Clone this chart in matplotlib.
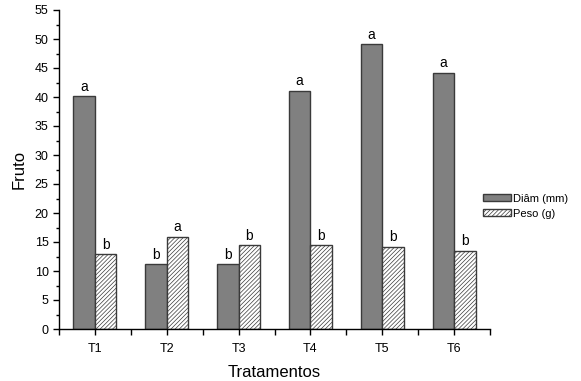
import numpy as np
import matplotlib.pyplot as plt
from matplotlib.ticker import MultipleLocator, FixedLocator

plt.rcParams['font.family'] = ['Liberation Sans', 'DejaVu Sans']
plt.rcParams['hatch.color'] = '#404040'
plt.rcParams['hatch.linewidth'] = 0.5

# data
tratamentos = ['T1', 'T2', 'T3', 'T4', 'T5', 'T6']
diam = [40.2, 11.2, 11.2, 41.1, 49.1, 44.2]
peso = [12.9, 15.9, 14.4, 14.4, 14.2, 13.5]
letras_diam = ['a', 'b', 'b', 'a', 'a', 'a']
letras_peso = ['b', 'a', 'b', 'b', 'b', 'b']

fig = plt.figure(figsize=(5.81, 3.81), dpi=100)
ax = fig.add_axes([59 / 581, 52 / 381, 431 / 581, 319 / 381])

x = np.arange(1, len(tratamentos) + 1)
w = 0.3
ax.bar(x - w / 2, diam, w, color='#808080', edgecolor='#3a3a3a',
       linewidth=1.0, label='Diâm (mm)')
ax.bar(x + w / 2, peso, w, color='white', edgecolor='#3a3a3a',
       linewidth=1.0, hatch='////////', label='Peso (g)')

# letras de significancia
for xi, v, l in zip(x - w / 2, diam, letras_diam):
    ax.text(xi, v + 0.4, l, ha='center', va='bottom', fontsize=10)
for xi, v, l in zip(x + w / 2, peso, letras_peso):
    ax.text(xi, v + 0.4, l, ha='center', va='bottom', fontsize=10)

ax.set_xlim(0.5, 6.5)
ax.set_ylim(0, 55)
ax.set_xticks(x)
ax.set_xticklabels(tratamentos)
ax.xaxis.set_minor_locator(FixedLocator(np.arange(0.5, 7, 1)))
ax.yaxis.set_major_locator(MultipleLocator(5))
ax.yaxis.set_minor_locator(MultipleLocator(2.5))
ax.tick_params(axis='both', which='major', labelsize=9, direction='out',
               length=4, width=1, color='black')
ax.tick_params(axis='both', which='minor', direction='out', length=2.5,
               width=1, color='black')
ax.tick_params(axis='x', which='minor', length=4)
ax.tick_params(axis='x', which='major', pad=6)

for s in ['top', 'right']:
    ax.spines[s].set_visible(False)
for s in ['left', 'bottom']:
    ax.spines[s].set_linewidth(1.0)

ax.set_xlabel('Tratamentos', fontsize=12, labelpad=7)
ax.set_ylabel('Fruto', fontsize=12, labelpad=6)

ax.legend(loc='center left', bbox_to_anchor=(0.973, 0.385), frameon=False,
          fontsize=8, handlelength=2.5, handleheight=0.65, labelspacing=0.45,
          handletextpad=0.2, borderaxespad=0)

fig.savefig('out.png', dpi=100)
